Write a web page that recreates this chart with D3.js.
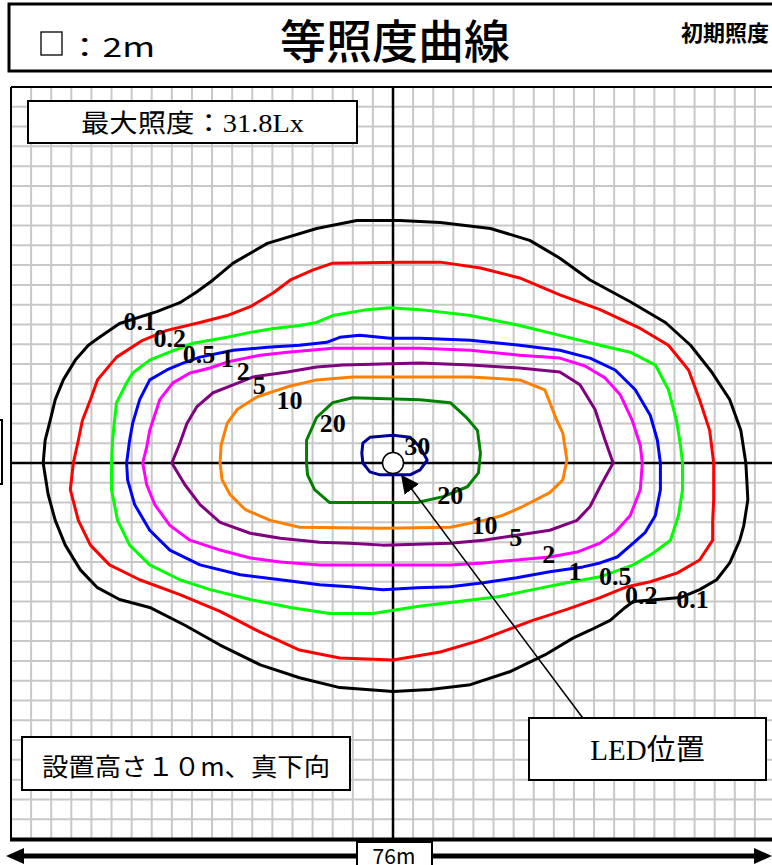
<!DOCTYPE html>
<html>
<head>
<meta charset="utf-8">
<script src="https://cdn.jsdelivr.net/npm/d3@7"></script>
<style>
  body { margin: 0; background: #fff; }
  svg { display: block; }
</style>
</head>
<body>
<div id="chart"></div>
<script>
const width = 772;
const height = 865;

// contour lines, [x m, y m] from the LED position
const c01 = [[-34.8,0],[-34.6,2.3],[-34.1,4.3],[-33.6,6.4],[-32.8,8.4],[-31.6,10.4],[-30.3,11.9],[-29.2,12.7],[-27.2,14.1],[-23.5,15.3],[-21.2,16.2],[-19.5,17.3],[-17.9,18.5],[-15.9,20.2],[-12.5,22.2],[-7.6,23.7],[-3.6,24.5],[0.7,24.5],[4.7,24.3],[9.7,23.7],[13.6,22.5],[16.6,20.7],[19.6,18.5],[23.6,16.3],[27.1,14.2],[29.6,11.9],[31.7,9.2],[33.5,6.4],[34.6,3.3],[35.1,0],[35.3,-3.7],[34.9,-6.3],[34.5,-7.8],[33.5,-10.1],[32.2,-11.8],[30.5,-12.8],[28.6,-13.6],[26.3,-13.8],[23.9,-14.0],[23.1,-14.6],[21.6,-15.9],[19.6,-16.9],[17.9,-17.7],[15.1,-19.4],[11.6,-21.1],[7.7,-22.4],[3.7,-22.9],[0,-23.1],[-5.3,-22.7],[-9.3,-21.7],[-13.2,-20.4],[-17.2,-18.4],[-20.7,-16.4],[-24.2,-14.6],[-27.2,-13.8],[-29.4,-12.6],[-31.1,-10.8],[-32.6,-8.3],[-33.6,-5.8],[-34.3,-3.2]];
const c02 = [[-31.8,0],[-31.3,2.3],[-30.9,4.3],[-30.1,6.4],[-29.4,8.4],[-27.5,10.7],[-24.9,12.4],[-22.5,13.4],[-19.2,14.2],[-16.5,14.9],[-14.2,15.8],[-11.9,17.2],[-10.2,18.5],[-8.0,19.5],[-6.0,20.2],[0.7,20.3],[4.7,20.3],[8.7,19.7],[12.6,18.7],[16.6,17.0],[20.6,15.5],[24.6,13.6],[27.4,11.9],[29.4,9.4],[30.5,6.4],[31.5,3.3],[31.9,0],[31.9,-3.7],[31.8,-5.8],[31.8,-7.8],[30.5,-9.8],[28.3,-11.1],[25.6,-12.0],[23.3,-12.5],[20.6,-13.6],[17.3,-14.8],[13.9,-15.9],[11.3,-16.9],[8.7,-17.9],[4.7,-19.1],[0,-19.9],[-5.3,-19.7],[-9.3,-18.9],[-13.2,-17.1],[-17.2,-15.0],[-21.2,-13.3],[-25.2,-11.8],[-28.2,-10.3],[-30.1,-8.3],[-31.3,-5.8],[-32.1,-2.7]];
const c05 = [[-28.0,0],[-27.9,2.3],[-27.7,4.3],[-27.5,6.1],[-26.5,8.1],[-25.9,9.1],[-24.2,10.4],[-22.5,11.1],[-19.9,12.1],[-16.5,12.7],[-14.2,13.2],[-11.9,13.6],[-9.3,13.9],[-7.6,14.2],[-6.0,14.9],[-2.6,15.5],[-0.3,15.7],[2.7,15.5],[7.7,14.9],[12.6,13.9],[16.6,12.9],[20.6,11.9],[23.6,11.2],[26.1,9.9],[27.4,7.4],[28.2,4.3],[28.6,1.8],[28.8,0],[28.8,-2.7],[28.4,-5.3],[27.6,-7.8],[25.9,-9.1],[23.9,-10.3],[20.6,-11.5],[17.3,-12.1],[13.9,-12.8],[10.6,-13.5],[5.7,-14.1],[2.4,-14.5],[-2.0,-15.2],[-6.3,-15.2],[-10.2,-14.6],[-14.2,-13.8],[-18.2,-12.8],[-21.2,-11.8],[-24.2,-10.3],[-26.2,-8.3],[-27.4,-5.8],[-28.0,-2.7]];
const c1 = [[-26.5,0],[-26.2,2.3],[-25.9,4.0],[-25.2,6.4],[-24.2,8.4],[-22.5,9.4],[-20.9,10.1],[-19.2,10.7],[-15.9,11.4],[-12.5,11.7],[-9.3,11.9],[-6.6,12.2],[-5.3,12.7],[-3.3,12.9],[-0.3,12.6],[2.7,12.6],[7.7,12.4],[12.6,11.9],[16.6,11.4],[19.6,10.6],[22.1,9.4],[24.1,7.4],[25.6,4.8],[26.3,2.3],[26.6,0],[26.6,-2.7],[26.1,-5.3],[25.1,-7.0],[23.9,-8.1],[22.3,-9.5],[20.6,-10.1],[18.9,-10.5],[15.6,-11.0],[12.3,-11.6],[9.0,-12.1],[5.7,-12.5],[2.4,-12.6],[-1.0,-12.8],[-4.3,-12.5],[-7.3,-12.3],[-11.2,-11.8],[-15.2,-11.3],[-19.2,-10.3],[-22.2,-8.8],[-24.2,-6.8],[-25.7,-4.2],[-26.4,-1.7]];
const c2 = [[-24.9,0],[-24.5,1.6],[-24.2,3.3],[-23.2,6.4],[-21.9,8.1],[-20.2,9.1],[-18.2,9.6],[-16.5,10.2],[-13.2,10.9],[-10.5,11.2],[-6.0,11.6],[2.7,11.6],[7.7,11.4],[12.6,10.9],[16.6,10.6],[19.1,9.8],[21.1,8.6],[22.6,6.9],[23.8,4.3],[24.6,1.8],[24.8,0],[24.6,-2.7],[23.6,-5.3],[22.1,-7.0],[20.6,-8.1],[18.3,-9.0],[15.6,-9.5],[12.3,-9.8],[9.0,-10.1],[5.7,-10.3],[-1.0,-10.3],[-7.3,-10.3],[-11.2,-10.0],[-14.2,-9.6],[-17.2,-8.8],[-20.2,-7.8],[-22.2,-6.3],[-23.7,-4.2],[-24.5,-2.2]];
const c5 = [[-22.0,0],[-21.2,2.0],[-20.5,4.0],[-19.5,5.7],[-17.9,7.1],[-15.9,7.9],[-13.9,8.7],[-10.5,9.2],[-7.6,9.7],[-5.0,9.9],[2.7,10.1],[7.7,9.9],[12.6,9.6],[16.6,9.2],[18.6,7.9],[20.1,5.4],[21.1,2.3],[21.9,0],[20.6,-2.4],[19.6,-4.4],[18.3,-5.8],[15.6,-6.8],[12.3,-7.3],[9.0,-7.8],[5.7,-8.1],[2.4,-8.2],[-1.0,-8.3],[-4.3,-8.1],[-7.3,-8.0],[-11.2,-7.6],[-14.2,-7.1],[-17.2,-6.0],[-19.2,-4.2],[-20.7,-2.2]];
const c10 = [[-17.2,0],[-17.1,1.8],[-16.5,4.0],[-15.5,5.4],[-13.5,6.7],[-10.5,7.7],[-7.6,8.4],[-4.0,8.7],[2.7,8.7],[7.7,8.7],[12.6,8.4],[15.1,7.4],[16.3,4.3],[16.9,3.0],[17.3,0.3],[16.9,-1.7],[15.6,-3.0],[12.9,-4.4],[10.9,-5.3],[9.0,-5.8],[5.7,-6.5],[-1.0,-6.6],[-9.3,-6.5],[-12.2,-5.8],[-14.7,-4.7],[-16.2,-3.2],[-17.0,-1.7]];
const c20 = [[-8.6,0],[-8.6,2.3],[-7.6,4.6],[-6.0,6.1],[-4.0,6.6],[2.7,6.4],[5.7,6.1],[7.4,4.5],[8.4,3.3],[8.7,1.0],[8.5,-1.0],[7.4,-2.4],[5.0,-3.4],[2.4,-4.0],[-4.3,-4.0],[-6.3,-4.0],[-7.8,-2.7],[-8.5,-1.2]];
const c30 = [[-3.0,2.0],[-2.3,2.6],[0,2.8],[1.7,2.6],[2.7,1.6],[3.4,0.3],[2.7,-0.7],[1.7,-1.2],[-1.3,-1.2],[-2.3,-0.9],[-3.0,0],[-3.1,1.0]];

const levels = ['0.1', '0.2', '0.5', '1', '2', '5', '10', '20', '30'];
const contours = [c01, c02, c05, c1, c2, c5, c10, c20, c30];
const colors = ['#000000', '#ff0000', '#00ff00', '#0000ff', '#ff00ff', '#800080', '#ff8000', '#008000', '#000099'];

// label positions, upper left side and lower right side
const labelsA = [[-25.2,14.3],[-22.2,12.6],[-19.3,11.0],[-16.5,10.6],[-14.9,9.2],[-13.3,7.8],[-10.3,6.3],[-6.0,4.0],[2.4,1.7]];
const labelsB = [[29.8,-13.8],[24.7,-13.4],[22.1,-11.5],[18.1,-11.0],[15.5,-9.2],[12.2,-7.5],[9.1,-6.3],[5.7,-3.3],null];

const gridStep = 2; // 1 square = 2m
const span = 38;    // 76m total

const svg = d3.select('#chart').append('svg')
  .attr('width', width)
  .attr('height', height);

svg.append('rect').attr('width', width).attr('height', height).attr('fill', '#fff');

const x = d3.scaleLinear().domain([-span, span]).range([11, 775]);
const y = d3.scaleLinear().domain([-span, span]).range([839, 87]);

// header
svg.append('rect')
  .attr('x', 9).attr('y', 4).attr('width', 800).attr('height', 67)
  .attr('fill', 'none').attr('stroke', '#000').attr('stroke-width', 3);
svg.append('rect')
  .attr('x', 41).attr('y', 32).attr('width', 21).attr('height', 23)
  .attr('fill', 'none').attr('stroke', '#000').attr('stroke-width', 1.3);
svg.append('text')
  .attr('x', 67).attr('y', 45)
  .attr('dominant-baseline', 'central')
  .attr('textLength', 88).attr('lengthAdjust', 'spacingAndGlyphs')
  .style('font-family', '"Noto Sans CJK JP", sans-serif')
  .style('font-size', '27px')
  .text('：2m');
svg.append('text')
  .attr('x', 395).attr('y', 38)
  .attr('text-anchor', 'middle')
  .attr('dominant-baseline', 'central')
  .style('font-family', '"Noto Sans CJK JP", sans-serif')
  .style('font-size', '46px')
  .style('font-weight', 500)
  .text('等照度曲線');
svg.append('text')
  .attr('x', 681).attr('y', 31)
  .attr('dominant-baseline', 'central')
  .style('font-family', '"Noto Sans CJK JP", sans-serif')
  .style('font-size', '22px')
  .style('font-weight', 700)
  .text('初期照度');

// grid
const plot = svg.append('g');
const ticks = d3.range(-span, span + 0.01, gridStep);
plot.selectAll('.vg').data(ticks).join('line')
  .attr('x1', d => x(d)).attr('x2', d => x(d))
  .attr('y1', y(span)).attr('y2', y(-span))
  .attr('stroke', '#c8c8c8').attr('stroke-width', 2);
plot.selectAll('.hg').data(ticks).join('line')
  .attr('y1', d => y(d)).attr('y2', d => y(d))
  .attr('x1', x(-span)).attr('x2', x(span))
  .attr('stroke', '#c8c8c8').attr('stroke-width', 2);

// centre axes
plot.append('line')
  .attr('x1', x(0)).attr('x2', x(0)).attr('y1', y(span)).attr('y2', y(-span))
  .attr('stroke', '#000').attr('stroke-width', 2.5);
plot.append('line')
  .attr('x1', x(-span)).attr('x2', x(span)).attr('y1', y(0)).attr('y2', y(0))
  .attr('stroke', '#000').attr('stroke-width', 2.5);

// contours
const line = d3.line()
  .x(d => x(d[0]))
  .y(d => y(d[1]))
  .curve(d3.curveLinearClosed);

plot.selectAll('.iso').data(contours).join('path')
  .attr('d', line)
  .attr('fill', 'none')
  .attr('stroke', (d, i) => colors[i])
  .attr('stroke-width', 3)
  .attr('stroke-linejoin', 'round');

// labels
const labelData = [];
levels.forEach((lv, i) => {
  labelData.push({ t: lv, p: labelsA[i] });
  if (labelsB[i]) labelData.push({ t: lv, p: labelsB[i] });
});
plot.selectAll('.lab').data(labelData).join('text')
  .attr('x', d => x(d.p[0]))
  .attr('y', d => y(d.p[1]))
  .attr('text-anchor', 'middle')
  .attr('dominant-baseline', 'central')
  .style('font-family', '"Liberation Serif", serif')
  .style('font-size', '26px')
  .style('font-weight', 700)
  .text(d => d.t);

// LED marker and arrow
svg.append('defs').append('marker')
  .attr('id', 'head')
  .attr('viewBox', '0 0 10 10')
  .attr('refX', 10).attr('refY', 5)
  .attr('markerWidth', 18).attr('markerHeight', 18)
  .attr('markerUnits', 'userSpaceOnUse')
  .attr('orient', 'auto')
  .append('path').attr('d', 'M0,0 L10,5 L0,10 z').attr('fill', '#000');

plot.append('line')
  .attr('x1', x(18.9)).attr('y1', y(-25.8))
  .attr('x2', x(0.8)).attr('y2', y(-1.2))
  .attr('stroke', '#000').attr('stroke-width', 1.5)
  .attr('marker-end', 'url(#head)');

plot.append('circle')
  .attr('cx', x(0)).attr('cy', y(0)).attr('r', 10.5)
  .attr('fill', '#fff').attr('stroke', '#000').attr('stroke-width', 1.5);

// text boxes
function box(x0, y0, w, h, txt, fam, size, len) {
  svg.append('rect')
    .attr('x', x0).attr('y', y0).attr('width', w).attr('height', h)
    .attr('fill', '#fff').attr('stroke', '#000').attr('stroke-width', 2);
  const t = svg.append('text')
    .attr('x', x0 + w / 2).attr('y', y0 + h / 2 + 1)
    .attr('text-anchor', 'middle')
    .attr('dominant-baseline', 'central')
    .style('font-family', fam)
    .style('font-size', size + 'px')
    .text(txt);
  if (len) t.attr('textLength', len).attr('lengthAdjust', 'spacingAndGlyphs');
}
box(28, 101, 329, 42, '最大照度：31.8Lx', '"Liberation Serif", "Noto Sans CJK JP", serif', 25, 223);
box(22, 737, 328, 53, '設置高さ１０m、真下向', '"Noto Sans CJK JP", sans-serif', 25, 288);
box(529, 718, 237, 62, 'LED位置', '"Liberation Serif", "Noto Sans CJK JP", serif', 29, 0);

// cut-off box on the left edge
svg.append('rect')
  .attr('x', -40).attr('y', 420).attr('width', 42).attr('height', 64)
  .attr('fill', 'none').attr('stroke', '#000').attr('stroke-width', 2);

// plot frame
svg.append('line').attr('x1', 11).attr('x2', 11).attr('y1', 87).attr('y2', 840)
  .attr('stroke', '#000').attr('stroke-width', 2);
svg.append('line').attr('x1', 11).attr('x2', 780).attr('y1', 87).attr('y2', 87)
  .attr('stroke', '#000').attr('stroke-width', 2);
svg.append('line').attr('x1', 10).attr('x2', 780).attr('y1', 839.5).attr('y2', 839.5)
  .attr('stroke', '#000').attr('stroke-width', 4);

// 76m dimension
svg.append('line').attr('x1', 20).attr('x2', 760).attr('y1', 856).attr('y2', 856)
  .attr('stroke', '#000').attr('stroke-width', 5);
svg.append('path').attr('d', 'M6,856 L24,848 L24,864 z').attr('fill', '#000');
svg.append('path').attr('d', 'M772,856 L754,848 L754,864 z').attr('fill', '#000');
svg.append('rect').attr('x', 357).attr('y', 842).attr('width', 75).attr('height', 40)
  .attr('fill', '#fff').attr('stroke', '#000').attr('stroke-width', 2);
svg.append('text')
  .attr('x', 394).attr('y', 864)
  .attr('text-anchor', 'middle')
  .style('font-family', '"Noto Sans CJK JP", sans-serif')
  .style('font-size', '21px')
  .text('76m');
</script>
</body>
</html>
